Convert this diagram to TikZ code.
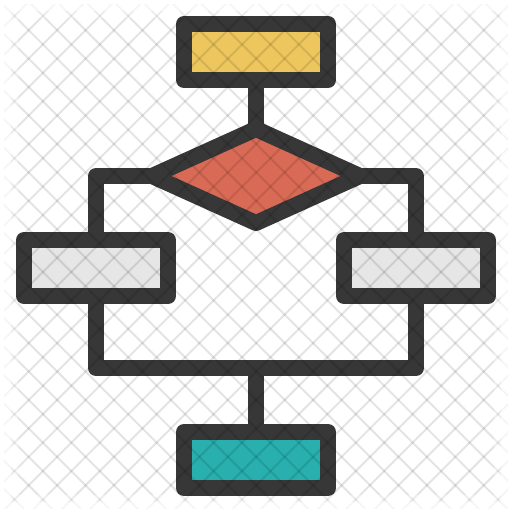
\documentclass[tikz,border=0pt]{standalone}
\usetikzlibrary{shapes.geometric}
\definecolor{dk}{HTML}{373737}
\definecolor{yel}{HTML}{EDC75E}
\definecolor{redf}{HTML}{D96A56}
\definecolor{grf}{HTML}{E6E6E6}
\definecolor{teal}{HTML}{29B0AE}
\newcommand\myhatch{%
  \foreach \k in {-1,...,37}{\draw[hatch] ({2+\k*28.444},0) -- ({2+\k*28.444-512},512);}%
  \foreach \k in {-19,...,19}{\draw[hatch] ({-1.5+\k*28.444},0) -- ({-1.5+\k*28.444+512},512);}%
}
\begin{document}
\begin{tikzpicture}[x=1pt,y=-1pt,
  box/.style={draw=dk, line width=16pt, line join=round, rectangle,
    minimum width=144pt, minimum height=56pt, inner sep=0pt, outer sep=0pt},
  dia/.style={draw=dk, line width=16pt, line join=round, diamond,
    minimum width=208pt, minimum height=94pt, inner sep=0pt, outer sep=0pt},
  conn/.style={draw=dk, line width=16pt, line join=round},
  hatch/.style={black, line width=2pt}]
\useasboundingbox[fill=white] (0,0) rectangle (512,512);
% nodes
\node[box, fill=yel] (top) at (256,52) {};
\node[dia, fill=redf] (dec) at (256,176) {};
\node[box, fill=grf] (left) at (96,268) {};
\node[box, fill=grf] (right) at (416,268) {};
\node[box, fill=teal] (bot) at (256,460) {};
\coordinate (junc) at (256,368);
% connectors
\draw[conn] (top.south) -- (dec.north);
\draw[conn] (dec.west) -| (left.north);
\draw[conn] (dec.east) -| (right.north);
\draw[conn] (left.south) |- (junc) -| (right.south);
\draw[conn] (junc) -- (bot.north);
% background watermark pattern
\begin{scope}[opacity=.035]
  \clip (4,4) rectangle (508,508);
  \myhatch
\end{scope}
\begin{scope}[opacity=.035]
  \clip (11,11) rectangle (501,501);
  \myhatch
\end{scope}
\begin{scope}[opacity=.035]
  \clip (18,18) rectangle (494,494);
  \myhatch
\end{scope}
\end{tikzpicture}
\end{document}
